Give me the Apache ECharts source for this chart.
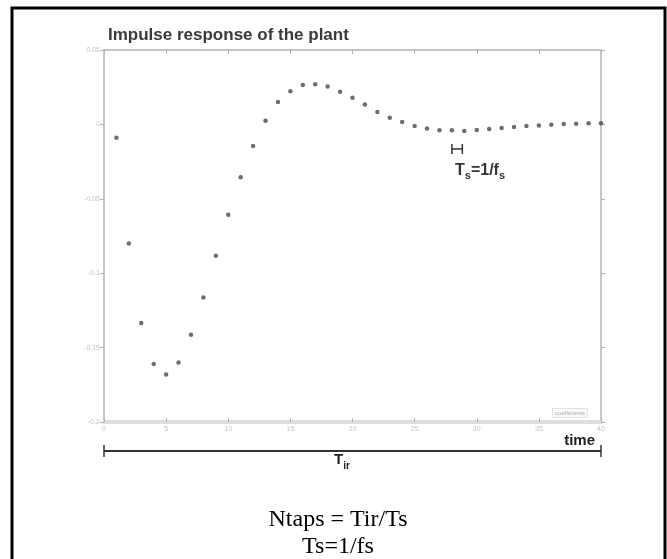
<!DOCTYPE html>
<html>
<head>
<meta charset="utf-8">
<script src="https://cdn.jsdelivr.net/npm/echarts@6/dist/echarts.min.js"></script>
<style>
  html, body {margin: 0; padding: 0; background: #fff;}
  #chart {width: 667px; height: 559px;}
</style>
</head>
<body>
<div id="chart"></div>
<script>
// samples of the impulse response
const sampleTimes = [1, 2, 3, 4, 5, 6, 7, 8, 9, 10, 11, 12, 13, 14, 15, 16, 17, 18, 19, 20,
    21, 22, 23, 24, 25, 26, 27, 28, 29, 30, 31, 32, 33, 34, 35, 36, 37, 38, 39, 40];
const coeffs = [-0.009, -0.080, -0.1335, -0.161, -0.168, -0.160, -0.1413, -0.1163, -0.0882, -0.0607,
    -0.0356, -0.0146, 0.0025, 0.015, 0.0222, 0.0264, 0.0269, 0.0255, 0.022, 0.0179,
    0.0134, 0.0083, 0.0045, 0.0016, -0.0011, -0.0027, -0.004, -0.004, -0.0045, -0.0038,
    -0.0031, -0.0025, -0.0018, -0.0011, -0.0007, -0.0002, 0.0002, 0.0005, 0.0007, 0.0007];
const xTicks = [0, 5, 10, 15, 20, 25, 30, 35, 40];
const yTicks = [0.05, 0, -0.05, -0.1, -0.15, -0.2];

const axisGray = '#b4b4b4';
const labelGray = '#c4c4c4';

var myChart = echarts.init(document.getElementById('chart'));

myChart.setOption({
    animation: false,
    title: {
        text: 'Impulse response of the plant',
        left: 103, top: 22,
        textStyle: {fontFamily: 'Liberation Sans', fontSize: 17, fontWeight: 'bold', color: '#3a3a3a'}
    },
    grid: {left: 104, right: 66, top: 50, bottom: 137},
    xAxis: [{
        type: 'value', min: xTicks[0], max: xTicks[xTicks.length - 1], interval: 5,
        axisLine: {onZero: false, lineStyle: {color: '#dedede', width: 4}},
        axisTick: {inside: true, length: 4, lineStyle: {color: axisGray}},
        axisLabel: {color: labelGray, fontSize: 7, margin: 4, fontFamily: 'Liberation Sans'},
        splitLine: {show: false}
    }, {
        type: 'value', position: 'top', min: 0, max: 40, interval: 5,
        axisLine: {show: true, onZero: false, lineStyle: {color: axisGray, width: 1.5}},
        axisTick: {inside: true, length: 4, lineStyle: {color: axisGray}},
        axisLabel: {show: false},
        splitLine: {show: false}
    }],
    yAxis: [{
        type: 'value', min: -0.2, max: 0.05, interval: 0.05,
        axisLine: {show: true, onZero: false, lineStyle: {color: axisGray, width: 1.5}},
        axisTick: {show: true, length: 4, lineStyle: {color: axisGray}},
        axisLabel: {
            color: labelGray, fontSize: 7, margin: 4, fontFamily: 'Liberation Sans',
            formatter: v => yTicks.find(t => Math.abs(t - v) < 1e-9) + ''
        },
        splitLine: {show: false}
    }, {
        type: 'value', position: 'right', min: -0.2, max: 0.05, interval: 0.05,
        axisLine: {show: true, onZero: false, lineStyle: {color: axisGray, width: 1.5}},
        axisTick: {show: true, length: 4, lineStyle: {color: axisGray}},
        axisLabel: {show: false},
        splitLine: {show: false}
    }],
    series: [{
        name: 'coefficients',
        type: 'scatter',
        symbol: 'circle',
        symbolSize: 4.5,
        itemStyle: {color: '#4a4a4a'},
        data: sampleTimes.map((t, i) => [t, coeffs[i]])
    }]
});

// annotations tied to the axis scale
const p0 = myChart.convertToPixel({xAxisIndex: 0, yAxisIndex: 0}, [0, 0]);
const p40 = myChart.convertToPixel({xAxisIndex: 0, yAxisIndex: 0}, [40, 0]);
const ts0 = myChart.convertToPixel({xAxisIndex: 0, yAxisIndex: 0}, [28, -0.0165]);
const ts1 = myChart.convertToPixel({xAxisIndex: 0, yAxisIndex: 0}, [29, -0.0165]);
const lineY = 451;
const dark = '#333';

myChart.setOption({
    graphic: [
        // outer frame
        {type: 'rect', shape: {x: 12, y: 8, width: 653, height: 560},
            style: {fill: 'none', stroke: '#000', lineWidth: 3}, silent: true},
        // Tir span
        {type: 'line', shape: {x1: p0[0], y1: lineY, x2: p40[0], y2: lineY}, style: {stroke: dark, lineWidth: 2}},
        {type: 'line', shape: {x1: p0[0], y1: lineY - 6, x2: p0[0], y2: lineY + 6}, style: {stroke: dark, lineWidth: 1.5}},
        {type: 'line', shape: {x1: p40[0], y1: lineY - 6, x2: p40[0], y2: lineY + 6}, style: {stroke: dark, lineWidth: 1.5}},
        {type: 'text', x: 595, y: 448, style: {
            text: 'time', align: 'right', verticalAlign: 'bottom',
            font: 'bold 15px "Liberation Sans"', fill: '#222'}},
        {type: 'text', x: 334, y: 452, style: {
            text: '{m|T}{s|ir}', rich: {
                m: {font: 'bold 15px "Liberation Sans"', fill: '#222', verticalAlign: 'top'},
                s: {font: 'bold 10px "Liberation Sans"', fill: '#222', padding: [9, 0, 0, 0]}
            }}},
        // one sample period
        {type: 'line', shape: {x1: ts0[0], y1: ts0[1], x2: ts1[0] - 2, y2: ts1[1]}, style: {stroke: dark, lineWidth: 1.5}},
        {type: 'line', shape: {x1: ts0[0], y1: ts0[1] - 5, x2: ts0[0], y2: ts0[1] + 5}, style: {stroke: dark, lineWidth: 1.5}},
        {type: 'line', shape: {x1: ts1[0] - 2, y1: ts1[1] - 5, x2: ts1[0] - 2, y2: ts1[1] + 5}, style: {stroke: dark, lineWidth: 1.5}},
        {type: 'text', x: 455, y: 161, style: {
            text: '{m|T}{s|s}{m|=1/f}{s|s}', rich: {
                m: {font: 'bold 16px "Liberation Sans"', fill: '#333'},
                s: {font: 'bold 11px "Liberation Sans"', fill: '#333', padding: [9, 0, 0, 0]}
            }}},
        // legend-like tag
        {type: 'text', x: 570, y: 413, style: {
            text: 'coefficients', align: 'center', verticalAlign: 'middle',
            font: '6px "Liberation Sans"', fill: '#aaa',
            backgroundColor: '#fafafa', borderColor: '#e2e2e2', borderWidth: 1, padding: [1, 2]}},
        // formulas
        {type: 'text', x: 338, y: 520, style: {
            text: 'Ntaps = Tir/Ts', align: 'center', verticalAlign: 'middle',
            font: '24px "Liberation Serif"', fill: '#000'}},
        {type: 'text', x: 338, y: 547, style: {
            text: 'Ts=1/fs', align: 'center', verticalAlign: 'middle',
            font: '24px "Liberation Serif"', fill: '#000'}}
    ]
});
</script>
</body>
</html>
